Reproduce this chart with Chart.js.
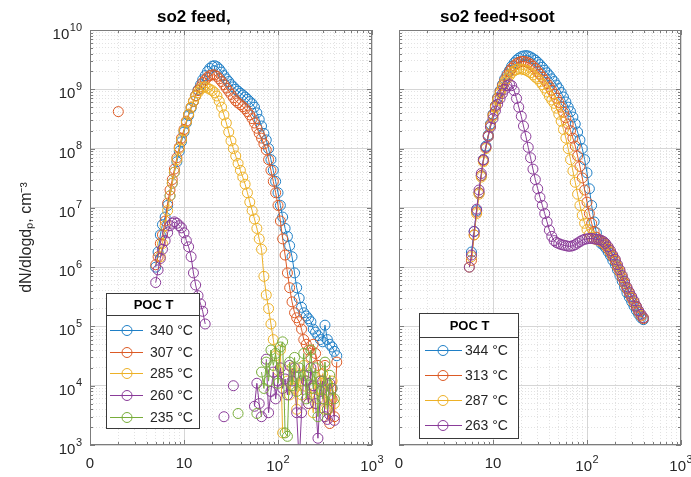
<!DOCTYPE html>
<html>
<head>
<meta charset="utf-8">
<script src="https://cdn.jsdelivr.net/npm/chart.js@4.4.0/dist/chart.umd.min.js"></script>
<style>
  body { margin: 0; background: #fff; }
  #wrap { position: relative; width: 691px; height: 477px; overflow: hidden; }
  canvas { position: absolute; top: 0; }
</style>
</head>
<body>
<div id="wrap">
  <canvas id="feed" width="395" height="477" style="left:0;width:395px;height:477px"></canvas>
  <canvas id="soot" width="311" height="477" style="left:380px;width:311px;height:477px"></canvas>
</div>
<script>
// mobility diameter bins, nm
const diam = [
  2.0, 3.2,
  5.0, 5.3, 5.6, 5.9, 6.3, 6.7, 7.1, 7.5, 7.9, 8.4, 8.9, 9.4,
  10.0, 10.6, 11.2, 11.9, 12.6, 13.3, 14.1, 15.0, 15.8, 16.8, 17.8, 18.8, 20.0, 21.1, 22.4, 23.7, 25.1, 26.6, 28.2, 29.9,
  31.6, 33.5, 35.5, 37.6, 39.8, 42.2, 44.7, 47.3, 50.1, 53.1, 56.2, 59.6, 63.1, 66.8, 70.8, 75.0, 79.4, 84.1, 89.1, 94.4,
  100, 106, 112, 119, 126, 133, 141, 150, 158, 168, 178, 188, 200, 211, 224, 237, 251, 266, 282, 299, 316, 335, 355, 376, 398, 422
];

// so2 feed
const feed340 = [
  null, null,
  1.0e6, 1.8e6, 3.5e6, 5.2e6, 7e6, 1.1e7, 1.6e7, 2.6e7, 4e7, 6e7, 9e7, 1.3e8,
  1.9e8, 2.7e8, 3.6e8, 4.8e8, 6.2e8, 7.8e8, 9.8e8, 1.2e9, 1.45e9, 1.7e9, 2.0e9, 2.25e9, 2.45e9, 2.5e9, 2.4e9, 2.2e9, 1.95e9, 1.7e9, 1.5e9, 1.35e9,
  1.2e9, 1.1e9, 1.0e9, 9.3e8, 8.6e8, 8e8, 7.4e8, 6.8e8, 6.2e8, 5.7e8, 5.0e8, 4.0e8, 3.1e8, 2.4e8, 1.8e8, 1.4e8, 1.0e8, 6.5e7, 4.3e7, 2.8e7,
  1.8e7, 1.1e7, 7e6, 4.5e6, 3.3e6, 2.3e6, 1.5e6, 8e5, 4.5e5, 3e5, 2.1e5, 1.7e5, 1.5e5, 1.35e5, 1.2e5, 9e4, 8e4, 7e4, 6e4, 5.5e4, 1.05e5, 6e4, 5e4, 4.5e4, 3.8e4, 3.2e4
];
const feed307 = [
  4.2e8, null,
  1.1e6, 1.5e6, 2.5e6, 3.5e6, 6e6, 1.2e7, 2e7, 3e7, 4.5e7, 7e7, 1.05e8, 1.5e8,
  2.1e8, 2.9e8, 3.8e8, 5e8, 6.3e8, 7.8e8, 9.5e8, 1.1e9, 1.3e9, 1.45e9, 1.6e9, 1.7e9, 1.75e9, 1.75e9, 1.65e9, 1.5e9, 1.35e9, 1.2e9, 1.05e9, 9.3e8,
  8.2e8, 7.2e8, 6.4e8, 5.9e8, 5.5e8, 5.1e8, 4.7e8, 4.2e8, 3.7e8, 3.2e8, 2.7e8, 2.2e8, 1.8e8, 1.5e8, 1.2e8, 9.5e7, 6.5e7, 4.3e7, 2.8e7, 1.8e7,
  1.1e7, 6e6, 3e6, 1.6e6, 8e5, 4.5e5, 2.6e5, 1.7e5, 1.4e5, 1.2e5, 9e4, 6e4, 5e4, 4e4, 3e4, 5e4, 3.5e4, 2.2e4, 1.2e4, 6e3, 2.2e4, 4e3, 2.3e3, 6e3, 3e3, 2.5e4
];
const feed285 = [
  null, null,
  null, null, 1.5e6, 2.5e6, 5e6, 9e6, 1.6e7, 2.6e7, 4e7, 6.5e7, 1e8, 1.4e8,
  2e8, 2.8e8, 3.8e8, 5e8, 6.3e8, 7.6e8, 8.8e8, 1.0e9, 1.08e9, 1.1e9, 1.05e9, 1.0e9, 9.5e8, 8.8e8, 7.7e8, 6.3e8, 5e8, 3.7e8, 2.7e8, 1.9e8,
  1.35e8, 1.0e8, 7.5e7, 5.6e7, 4.3e7, 3.3e7, 2.5e7, 1.8e7, 1.25e7, 9e6, 6.5e6, 4.5e6, 3e6, 2e6, 7e5, 3.4e5, 2e5, 1.1e5, 6e4, 3.2e4,
  1.8e4, 4e4, 1.6e3, null, 1.2e4, 7e3, 2e4, 9e3, 4e3, 1.5e4, 7e3, 2.2e4, 1.2e4, 5e3, 9e3, 3.5e3, 1.4e4, 6e3, 9e3, 1.6e4, 4e3, 1.1e4, 7e3, 1.2e4, 5e3, null
];
const feed260 = [
  null, null,
  5.5e5, 9e5, 1.4e6, 2e6, 2.8e6, 3.8e6, 5e6, 5.5e6, 5.8e6, 5.5e6, 5e6, 4.6e6,
  3.8e6, 2.8e6, 2.2e6, 1.5e6, 8e5, 5e5, 3.3e5, 2.4e5, 1.8e5, 1.1e5, null, null, null, null, null, null, null, 3e3, null, null,
  null, 1e4, null, null, null, null, null, null, null, null, 4.5e3, 1.1e4, 5e3, 3e3, null, 2.8e4, 3.5e3, 8e3, 1.7e4, 6e3,
  1.2e4, 2e4, 9e3, 1.3e4, 7e3, 2.2e4, 1.2e4, 2e4, 3.5e3, 5e2, 3.5e3, 1.5e4, 1.2e4, 5e3, 2e4, 1e4, 5e3, 1.3e3, 8e3, 1.2e4, 3e3, 2.7e3, 1.1e4, 9e3, 2.6e3, null
];
const feed235 = [
  null, null,
  null, null, null, null, null, null, null, null, null, null, null, null,
  null, null, null, null, null, null, null, null, null, null, null, null, null, null, null, null, null, null, null, null,
  null, null, null, 3.4e3, null, null, null, null, null, null, null, 3.4e3, null, 1.7e4, 9e3, 2.5e4, 1.2e4, 4e4, 2.2e4, 3.5e4,
  1.1e4, 4.5e4, 5.5e4, 1.6e3, 1.4e3, 2.5e4, 1e4, 3e4, 8e3, 2e4, 1.2e4, 3.5e4, 6e3, 1.5e4, 4e4, 9e3, 2e4, 3e3, 1.2e4, 6e3, 2.5e4, 4e3, 1.5e4, 9e3, 6e3, null
];

// so2 feed+soot
const soot344 = [
  null, null,
  null, null, null, 1.8e6, 4e6, 9e6, 1.8e7, 3.5e7, 6.5e7, 1.1e8, 1.7e8, 2.6e8,
  3.8e8, 5.3e8, 7.2e8, 9.5e8, 1.2e9, 1.5e9, 1.8e9, 2.1e9, 2.45e9, 2.8e9, 3.1e9, 3.35e9, 3.55e9, 3.65e9, 3.7e9, 3.65e9, 3.5e9, 3.3e9, 3.1e9, 2.85e9,
  2.6e9, 2.35e9, 2.1e9, 1.9e9, 1.7e9, 1.5e9, 1.35e9, 1.18e9, 1.03e9, 8.8e8, 7.4e8, 6.1e8, 5e8, 4.2e8, 3.4e8, 2.6e8, 1.9e8, 1.4e8, 1.0e8, 6.5e7,
  3.9e7, 2.1e7, 1.1e7, 5.8e6, 3.8e6, 2.9e6, 2.5e6, 2.35e6, 2.1e6, 1.8e6, 1.55e6, 1.3e6, 1.1e6, 9e5, 7.2e5, 5.8e5, 4.6e5, 3.7e5, 3.1e5, 2.6e5, 2.2e5, 1.85e5, 1.6e5, 1.4e5, 1.3e5, null
];
const soot313 = [
  null, null,
  null, null, null, 1.3e6, 3.5e6, 8.5e6, 1.8e7, 3.5e7, 6.3e7, 1.05e8, 1.65e8, 2.5e8,
  3.7e8, 5.2e8, 7e8, 9.2e8, 1.15e9, 1.4e9, 1.7e9, 2.0e9, 2.25e9, 2.5e9, 2.7e9, 2.85e9, 2.95e9, 2.95e9, 2.9e9, 2.8e9, 2.65e9, 2.45e9, 2.25e9, 2.0e9,
  1.8e9, 1.6e9, 1.42e9, 1.25e9, 1.1e9, 9.6e8, 8.3e8, 7.1e8, 6e8, 5e8, 4.1e8, 3.3e8, 2.6e8, 2e8, 1.5e8, 1.1e8, 7.5e7, 5e7, 3.2e7, 2e7,
  1.25e7, 8e6, 5.5e6, 4e6, 3.2e6, 2.9e6, 2.7e6, 2.55e6, 2.3e6, 2e6, 1.75e6, 1.5e6, 1.25e6, 1.0e6, 8.2e5, 6.6e5, 5.3e5, 4.3e5, 3.6e5, 3e5, 2.5e5, 2.1e5, 1.75e5, 1.5e5, 1.35e5, null
];
const soot287 = [
  null, null,
  null, null, 1e6, 1.5e6, 3.5e6, 8e6, 1.7e7, 3.3e7, 6e7, 1.0e8, 1.6e8, 2.4e8,
  3.5e8, 4.9e8, 6.5e8, 8.5e8, 1.05e9, 1.3e9, 1.5e9, 1.7e9, 1.9e9, 2.05e9, 2.15e9, 2.2e9, 2.2e9, 2.15e9, 2.1e9, 2.0e9, 1.9e9, 1.75e9, 1.6e9, 1.5e9,
  1.35e9, 1.2e9, 1.05e9, 9e8, 7.6e8, 6.6e8, 5.8e8, 4.8e8, 3.8e8, 2.9e8, 2.1e8, 1.5e8, 1.0e8, 6.5e7, 4.2e7, 2.7e7, 1.7e7, 1.1e7, 7.5e6, 5.5e6,
  4.3e6, 3.6e6, 3.2e6, 3e6, 2.9e6, 2.85e6, 2.8e6, 2.65e6, 2.4e6, 2.1e6, 1.8e6, 1.55e6, 1.3e6, 1.05e6, 8.6e5, 7e5, 5.6e5, 4.5e5, 3.7e5, 3.1e5, 2.6e5, 2.2e5, 1.8e5, 1.55e5, 1.4e5, null
];
const soot263 = [
  null, null,
  null, null, 1e6, 1.6e6, 4e6, 9.5e6, 2e7, 3.8e7, 6.5e7, 1.05e8, 1.6e8, 2.3e8,
  3.2e8, 4.3e8, 5.6e8, 7e8, 8.5e8, 1.0e9, 1.15e9, 1.2e9, 1.15e9, 9.5e8, 7e8, 5e8, 3.5e8, 2.4e8, 1.6e8, 1.05e8, 7e7, 4.5e7, 3e7, 2.1e7,
  1.5e7, 1.1e7, 8e6, 5.8e6, 4.2e6, 3.3e6, 2.8e6, 2.6e6, 2.5e6, 2.4e6, 2.35e6, 2.3e6, 2.25e6, 2.25e6, 2.3e6, 2.4e6, 2.55e6, 2.7e6, 2.85e6, 2.95e6,
  3.0e6, 3.05e6, 3.05e6, 3.0e6, 2.95e6, 2.9e6, 2.85e6, 2.7e6, 2.5e6, 2.2e6, 1.9e6, 1.6e6, 1.35e6, 1.1e6, 9e5, 7.2e5, 5.8e5, 4.6e5, 3.8e5, 3.2e5, 2.7e5, 2.2e5, 1.85e5, 1.6e5, 1.4e5, null
];

const feedLabels = ['340 °C', '307 °C', '285 °C', '260 °C', '235 °C'];
const sootLabels = ['344 °C', '313 °C', '287 °C', '263 °C'];
const colors = ['#1f7fc6', '#dc5a25', '#edb127', '#8a3c99', '#78ad3a'];

// x tick labels: base text and superscript exponent
const xTickVals = [1, 10, 100, 1000];
const xTickBase = ['0', '10', '10', '10'];
const xTickExp = ['', '', '2', '3'];

const FONT = '"Liberation Sans", Arial, sans-serif';
Chart.defaults.font.family = FONT;

// chart.js log ticks include 1.5, 15, 150... which matlab doesn't grid
function dropHalfSteps(scale) {
  scale.ticks = scale.ticks.filter(t => {
    const m = t.value / Math.pow(10, Math.floor(Math.log10(t.value) + 1e-9));
    return Math.abs(m - Math.round(m)) < 1e-6;
  });
}

// draws "base" with a raised smaller exponent, like matlab's 10^{n}
function powText(ctx, base, exp, x, baseline, align) {
  ctx.font = '15px ' + FONT;
  const wb = ctx.measureText(base).width;
  ctx.font = '11px ' + FONT;
  const we = exp ? ctx.measureText(exp).width + 0.5 : 0;
  let left = x;
  if (align === 'right') left = x - wb - we;
  if (align === 'center') left = x - (wb + we) / 2;
  ctx.textAlign = 'left';
  ctx.textBaseline = 'alphabetic';
  ctx.font = '15px ' + FONT;
  ctx.fillText(base, left, baseline);
  if (exp) {
    ctx.font = '11px ' + FONT;
    ctx.fillText(exp, left + wb + 0.5, baseline - 8.5);
  }
}

const frame = {
  id: 'frame',
  afterDraw(chart, args, o) {
    const {ctx, chartArea: a} = chart;
    const xs = chart.scales.x, ys = chart.scales.y;
    ctx.save();
    ctx.strokeStyle = '#7c7c7c';
    ctx.lineWidth = 1;
    ctx.beginPath();
    xs.ticks.forEach(t => {
      const p = Math.round(xs.getPixelForValue(t.value)) + 0.5;
      const n = t.major ? 5 : 3;
      ctx.moveTo(p, a.bottom); ctx.lineTo(p, a.bottom - n);
      ctx.moveTo(p, a.top); ctx.lineTo(p, a.top + n);
    });
    ys.ticks.forEach(t => {
      const p = Math.round(ys.getPixelForValue(t.value)) + 0.5;
      const n = t.major ? 5 : 3;
      ctx.moveTo(a.left, p); ctx.lineTo(a.left + n, p);
      ctx.moveTo(a.right, p); ctx.lineTo(a.right - n, p);
    });
    ctx.stroke();
    ctx.strokeRect(Math.round(a.left) + 0.5, Math.round(a.top) + 0.5,
      Math.round(a.right - a.left) - 1, Math.round(a.bottom - a.top) - 1);

    // tick labels
    ctx.fillStyle = '#262626';
    xTickVals.forEach((v, i) => {
      const p = xs.getPixelForValue(v);
      powText(ctx, xTickBase[i], xTickExp[i], p, xTickExp[i] ? a.bottom + 26 : a.bottom + 23, 'center');
    });
    if (o.yLabels) {
      ys.ticks.filter(t => t.major).forEach(t => {
        const p = ys.getPixelForValue(t.value);
        const e = Math.round(Math.log10(t.value));
        powText(ctx, '10', String(e), a.left - 8, p + 9, 'right');
      });
    }

    // panel title
    ctx.fillStyle = '#000';
    ctx.font = 'bold 17px ' + FONT;
    ctx.textAlign = 'left';
    ctx.textBaseline = 'alphabetic';
    ctx.fillText(o.title, o.titleX, 22);

    // legend box
    const L = o.box;
    ctx.fillStyle = '#fff';
    ctx.fillRect(L.x, L.y, L.w, L.h);
    ctx.strokeStyle = '#3a3a3a';
    ctx.strokeRect(L.x + 0.5, L.y + 0.5, L.w, L.h);
    ctx.beginPath();
    ctx.moveTo(L.x, L.y + L.head + 0.5);
    ctx.lineTo(L.x + L.w, L.y + L.head + 0.5);
    ctx.stroke();
    ctx.fillStyle = '#000';
    ctx.font = 'bold 13px ' + FONT;
    ctx.textAlign = 'center';
    ctx.textBaseline = 'middle';
    ctx.fillText('POC T', L.x + L.w / 2 + 1, L.y + L.head / 2 + 1);
    ctx.font = '14px ' + FONT;
    ctx.textAlign = 'left';
    chart.data.datasets.forEach((ds, i) => {
      const yy = Math.round(L.y + L.head + L.first + i * L.step) + 0.5;
      ctx.strokeStyle = ds.borderColor;
      ctx.beginPath();
      ctx.moveTo(L.x + L.line0, yy); ctx.lineTo(L.x + L.line1, yy);
      ctx.stroke();
      ctx.beginPath();
      ctx.arc(L.x + L.mark, yy, 5, 0, Math.PI * 2);
      ctx.stroke();
      ctx.fillStyle = '#262626';
      ctx.fillText(ds.label, L.x + L.text, yy + 1);
    });
    ctx.restore();
  }
};

function makeChart(id, series, labels, panel) {
  const grid = {
    color: c => (c.tick && c.tick.major) ? '#d6d6d6' : '#e2e2e2',
    lineWidth: 1,
    drawTicks: false
  };
  const border = {
    display: false,
    dash: c => (c.tick && !c.tick.major) ? [1, 2] : []
  };
  return new Chart(document.getElementById(id), {
    type: 'scatter',
    data: {
      datasets: series.map((vals, i) => ({
        label: labels[i],
        data: diam.map((d, k) => ({x: d, y: vals[k]})),
        showLine: true,
        spanGaps: false,
        borderColor: colors[i],
        backgroundColor: 'rgba(0,0,0,0)',
        borderWidth: 1,
        pointStyle: 'circle',
        pointRadius: 5,
        pointBorderWidth: 1,
        pointBorderColor: colors[i],
        pointBackgroundColor: 'rgba(0,0,0,0)',
        order: series.length - i
      }))
    },
    options: {
      responsive: false,
      animation: false,
      layout: {padding: {left: 0, right: panel.padRight, top: 30, bottom: 0}},
      plugins: {
        legend: {display: false},
        tooltip: {enabled: false},
        frame: {title: panel.title, titleX: panel.titleX, box: panel.box, yLabels: panel.yTitle}
      },
      scales: {
        x: {
          type: 'logarithmic',
          min: 1,
          max: 1000,
          afterBuildTicks: dropHalfSteps,
          afterFit: s => { s.height = 32; s.paddingLeft = 0; s.paddingRight = 0; },
          grid: grid,
          border: border,
          ticks: {display: false, autoSkip: false}
        },
        y: {
          type: 'logarithmic',
          min: 1e3,
          max: 1e10,
          afterBuildTicks: dropHalfSteps,
          afterFit: s => { s.width = panel.yWidth; s.paddingTop = 0; s.paddingBottom = 0; },
          grid: grid,
          border: border,
          title: {
            display: panel.yTitle,
            text: 'dN/dlogdₚ, cm⁻³',
            color: '#262626',
            font: {family: FONT, size: 16},
            padding: {top: 17, bottom: 0}
          },
          ticks: {display: false, autoSkip: false}
        }
      }
    },
    plugins: [frame]
  });
}

const feedChart = makeChart('feed',
  [feed340, feed307, feed285, feed260, feed235], feedLabels, {
    padRight: 23, yWidth: 90, yTitle: true,
    title: 'so2 feed,', titleX: 157,
    box: {x: 106, y: 293, w: 93, h: 135, head: 22, first: 15, step: 21.7,
          line0: 4, line1: 37, mark: 21, text: 44}
  });

const sootChart = makeChart('soot',
  [soot344, soot313, soot287, soot263], sootLabels, {
    padRight: 10, yWidth: 19, yTitle: false,
    title: 'so2 feed+soot', titleX: 60,
    box: {x: 39, y: 313, w: 99, h: 125, head: 24, first: 13, step: 25,
          line0: 6, line1: 43, mark: 24, text: 46}
  });
</script>
</body>
</html>
